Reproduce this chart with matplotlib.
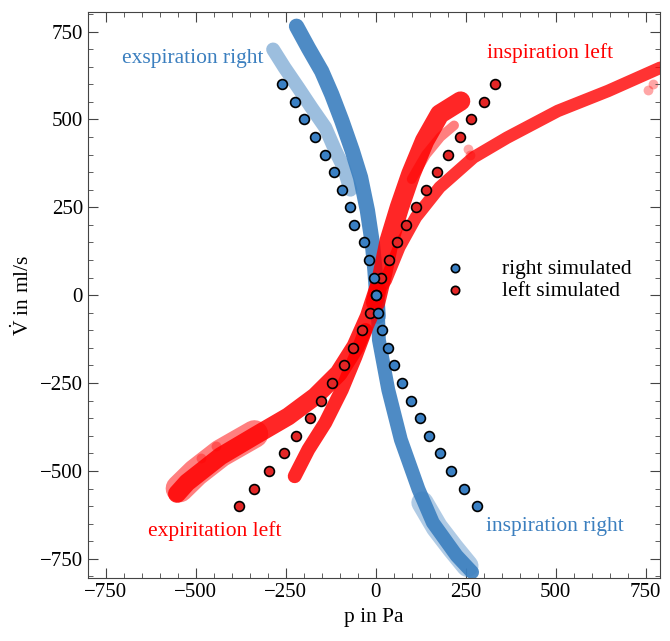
import matplotlib
matplotlib.use("Agg")
import matplotlib.pyplot as plt

plt.rcParams['font.family'] = ['Liberation Serif', 'DejaVu Serif']
plt.rcParams['mathtext.fontset'] = 'custom'
plt.rcParams['mathtext.rm'] = 'Liberation Serif'
plt.rcParams['mathtext.it'] = 'Liberation Serif:italic'

BLUE = '#3b7fbf'
RED = '#ff0000'

# simulated points
sim_y = [600, 550, 500, 450, 400, 350, 300, 250, 200, 150, 100, 50, 0,
         -50, -100, -150, -200, -250, -300, -350, -400, -450, -500, -550, -600]
right_sim_x = [-259, -223, -199, -169, -142, -117, -94, -70, -59, -33, -19, -6, 0,
               7, 19, 35, 52, 73, 97, 124, 149, 179, 209, 246, 281]
left_sim_x = [331, 301, 266, 233, 201, 171, 140, 111, 84, 58, 36, 16, 0,
              -17, -37, -63, -89, -120, -152, -183, -222, -256, -297, -338, -380]

exp_right_outer_x = [-285, -253, -215, -178, -140, -112, -89, -70]
exp_right_outer_y = [699, 647, 590, 533, 477, 411, 363, 300]
exp_right_inner_x = [-220, -187, -150, -122, -94, -65, -42, -23, -9, -2, 3, 7]
exp_right_inner_y = [765, 703, 637, 571, 496, 411, 335, 241, 146, 71, 0, -60]
insp_right_x = [3, 9, 35, 70, 119, 159, 225, 268]
insp_right_y = [40, -127, -269, -411, -552, -647, -741, -788]
insp_right_tail_x = [130, 170, 215, 255]
insp_right_tail_y = [-590, -660, -720, -770]

insp_left_steep_x = [0, 19, 38, 66, 98, 136, 178, 236]
insp_left_steep_y = [-20, 61, 156, 250, 345, 439, 515, 552]
insp_left_mid_x = [100, 140, 180, 218]
insp_left_mid_y = [330, 400, 450, 483]
insp_left_long_x = [0, 28, 66, 112, 178, 272, 365, 506, 646, 791]
insp_left_long_y = [0, 42, 137, 222, 307, 392, 448, 524, 581, 647]

exp_left_outer_x = [5, -19, -56, -103, -168, -243, -337, -431, -524, -552]
exp_left_outer_y = [14, -61, -146, -222, -288, -345, -401, -458, -533, -565]
exp_left_wide_x = [-337, -431, -500, -545]
exp_left_wide_y = [-395, -450, -505, -550]
exp_left_inner_x = [-28, -56, -94, -140, -187, -225]
exp_left_inner_y = [-99, -175, -269, -363, -439, -515]

stray_red_x = [257, 262, 757, 770, -486, -445]
stray_red_y = [416, 400, 583, 600, -462, -430]

fig = plt.figure(figsize=(6.70, 6.41), dpi=100)
ax = fig.add_axes([0.131, 0.098, 0.854, 0.883])

def band(x, y, color, lw, alpha):
    ax.plot(x, y, color=color, lw=lw, alpha=alpha, solid_capstyle='round',
            solid_joinstyle='round')

# blue measured
band(exp_right_outer_x, exp_right_outer_y, BLUE, 10, 0.5)
band(exp_right_inner_x, exp_right_inner_y, BLUE, 11, 0.9)
band(insp_right_x, insp_right_y, BLUE, 10, 0.9)
band(insp_right_tail_x, insp_right_tail_y, BLUE, 16, 0.4)

# red measured
band(exp_left_wide_x, exp_left_wide_y, RED, 20, 0.5)
band(exp_left_outer_x, exp_left_outer_y, RED, 13, 0.85)
band(exp_left_inner_x, exp_left_inner_y, RED, 10, 0.85)
band(insp_left_long_x, insp_left_long_y, RED, 9, 0.8)
band(insp_left_steep_x, insp_left_steep_y, RED, 14, 0.85)
band(insp_left_mid_x, insp_left_mid_y, RED, 7, 0.5)
ax.scatter(stray_red_x, stray_red_y, s=50, color=RED, alpha=0.35, lw=0)

# simulated
ax.scatter(left_sim_x, sim_y, s=50, color='#e32626', edgecolor='black', lw=1.2,
           zorder=5, label='left simulated')
ax.scatter(right_sim_x, sim_y, s=50, color='#3a80c4', edgecolor='black', lw=1.2,
           zorder=6, label='right simulated')

h, l = ax.get_legend_handles_labels()
ax.legend(h[::-1], l[::-1], loc='center', bbox_to_anchor=(0.787, 0.527),
          frameon=False, fontsize=15.5, handlelength=1.0, handletextpad=1.7,
          labelspacing=0.1, markerscale=0.85)

TFS = 15.5
ax.text(-706, 674, 'exspiration right', color=BLUE, fontsize=TFS, va='center', ha='left')
ax.text(310, 688, 'inspiration left', color=RED, fontsize=TFS, va='center', ha='left')
ax.text(-633, -671, 'expiritation left', color=RED, fontsize=TFS, va='center', ha='left')
ax.text(308, -657, 'inspiration right', color=BLUE, fontsize=TFS, va='center', ha='left')

ax.set_xlim(-800, 790)
ax.set_ylim(-805, 805)
ax.set_xticks([-750, -500, -250, 0, 250, 500, 750])
ax.set_yticks([-750, -500, -250, 0, 250, 500, 750])
ax.xaxis.set_minor_locator(matplotlib.ticker.MultipleLocator(50))
ax.yaxis.set_minor_locator(matplotlib.ticker.MultipleLocator(50))
ax.tick_params(which='both', direction='in', top=True, right=True, labelsize=15,
               color='#444444')
ax.tick_params(which='major', length=7)
ax.tick_params(which='minor', length=3.5)
for s in ax.spines.values():
    s.set_color('#444444')
ax.set_xlabel('p in Pa', fontsize=15.5)
ax.set_ylabel(r'$\dot{\mathrm{V}}$ in ml/s', fontsize=15.5)

fig.savefig('out.png', dpi=100)
